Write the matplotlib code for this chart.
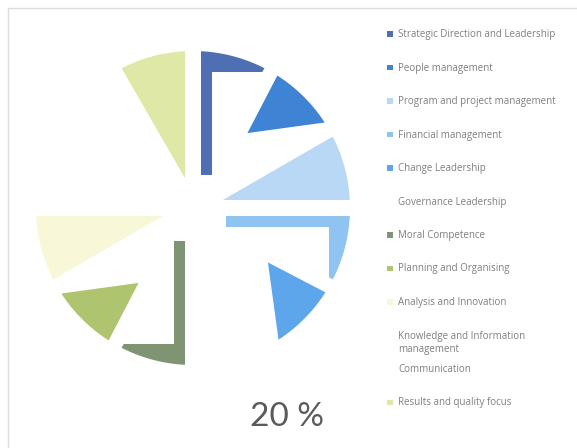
import matplotlib
matplotlib.use("Agg")
import matplotlib.pyplot as plt
from matplotlib.patches import Polygon, Rectangle
import numpy as np

# competencies, one equal slice each
categories = ["Strategic Direction and Leadership", "People management",
              "Program and project management", "Financial management",
              "Change Leadership", "Governance Leadership", "Moral Competence",
              "Planning and Organising", "Analysis and Innovation",
              "Knowledge and Information\nmanagement", "Communication",
              "Results and quality focus"]
shares = [1, 1, 1, 1, 1, 1, 1, 1, 1, 1, 1, 1]
# how each slice is filled in: full wedge, corner outline, inner piece or empty
fill_style = ["corner", "inner", "full", "corner", "inner", "none",
              "corner", "inner", "full", "none", "none", "full"]
colors = ["#4f6fb3", "#3f83d4", "#b9d8f5", "#8ec3f2", "#5ea6ec", "#ffffff",
          "#7f9473", "#aec46f", "#f8f7d8", "#ffffff", "#ffffff", "#dfe8a6"]
headline = "20 %"

W, H = 577, 448
fig = plt.figure(figsize=(W / 100, H / 100), dpi=100)
ax = fig.add_axes([0, 0, 1, 1])

cx, cy = 193, H - 208
R = 157
gap = 8

wedges, _ = ax.pie(shares, colors=colors, startangle=90, counterclock=False,
                   radius=R + gap, center=(cx, cy),
                   wedgeprops=dict(edgecolor="white", linewidth=2 * gap * 0.72))
ax.set_xlim(0, W)
ax.set_ylim(0, H)
ax.set_aspect("equal")
ax.axis("off")


def place(pts, a_deg):
    # local frame: v along the slice's first edge, u towards the clockwise side
    a = np.radians(a_deg)
    pts = np.asarray(pts)
    u, v = pts[:, 0], pts[:, 1]
    return np.column_stack([cx + u * np.cos(a) + v * np.sin(a),
                            cy - u * np.sin(a) + v * np.cos(a)])


for w, style, col in zip(wedges, fill_style, colors):
    if style == "full":
        continue
    w.set_visible(False)
    a_deg = 90 - w.theta2
    span = np.radians(w.theta2 - w.theta1)
    if style == "corner":
        a_off, b_off, v0, vb = gap, 19, 33, 136
        u4 = (vb * np.sin(span) - gap) / np.cos(span)
        n = np.array([-np.cos(span), np.sin(span)])
        d = np.array([np.sin(span), np.cos(span)])
        p = gap * n + np.sqrt(R ** 2 - gap ** 2) * d
        phi = np.linspace(np.arctan2(p[0], p[1]), np.arcsin(a_off / R), 30)
        pts = [(a_off, v0), (b_off, v0), (b_off, vb), (u4, vb), tuple(p)]
        pts += list(zip(R * np.sin(phi), R * np.cos(phi)))
        ax.add_patch(Polygon(place(pts, a_deg), closed=True, facecolor=col,
                             edgecolor="none"))
    elif style == "inner":
        ra, pa = 0.59 * R, np.radians(6)
        phi = np.linspace(np.radians(2.5), span - np.radians(3), 30)
        pts = [(ra * np.sin(pa), ra * np.cos(pa))]
        pts += list(zip(R * np.sin(phi), R * np.cos(phi)))
        ax.add_patch(Polygon(place(pts, a_deg), closed=True, facecolor=col,
                             edgecolor="none"))

# legend
ys = 34 + 33.5 * np.arange(len(categories))
ax.scatter(np.full(len(categories), 390), H - ys, marker="s", s=14,
           c=colors, linewidths=0)
for y, lab in zip(ys, categories):
    ax.text(398, H - y + 5, lab, va="top", ha="left", fontsize=7,
            color="#7f7f7f", linespacing=1.35, family="Open Sans")

ax.text(287, H - 417, headline, ha="center", va="center", fontsize=24,
        color="#5a5a5a", family="Lato")

# faint chart frame
ax.add_patch(Rectangle((8, -20), 700, H + 12, fill=False,
                       edgecolor="#dcdcdc", linewidth=1))

fig.savefig("out.png", dpi=100, facecolor="white")
